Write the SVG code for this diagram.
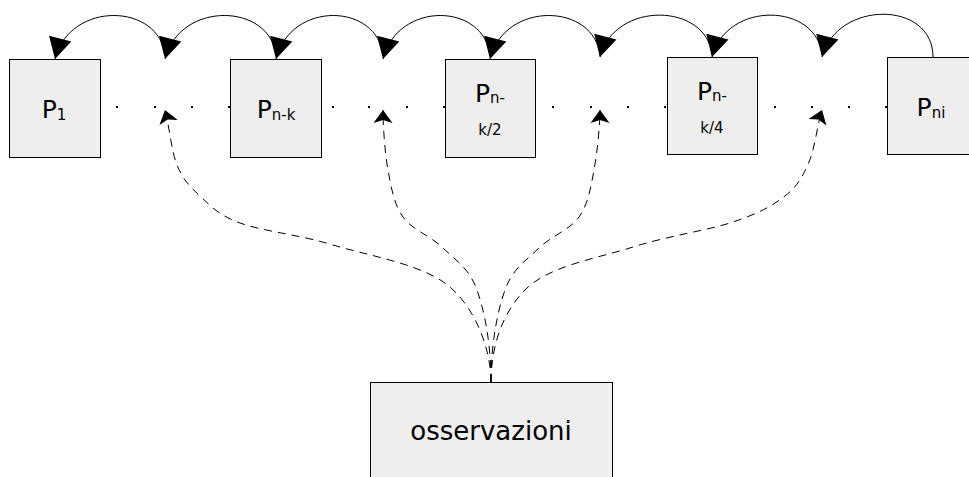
<svg xmlns="http://www.w3.org/2000/svg" width="969" height="477" viewBox="0 0 969 477">
<style>
.box{fill:#eeeeee;stroke:#000;stroke-width:1}
.t{font-family:"DejaVu Sans",sans-serif;font-size:25px;fill:#000;text-anchor:middle}
.s{font-size:15px}
.arc{fill:none;stroke:#000;stroke-width:1;marker-end:url(#tri)}
.dash{fill:none;stroke:#000;stroke-width:1;stroke-dasharray:8 6;marker-end:url(#cls)}
.dot{fill:#000}
</style>
<defs>
<marker id="tri" markerUnits="userSpaceOnUse" markerWidth="30" markerHeight="30" refX="0" refY="0" orient="auto" overflow="visible"><path d="M0,0 L-21,-11.5 L-21,11.5 Z" fill="#000" stroke="none"/></marker>
<marker id="cls" markerUnits="userSpaceOnUse" markerWidth="20" markerHeight="20" refX="0" refY="0" orient="auto" overflow="visible"><path d="M0,0 L-13,-9.5 L-10,0 L-13,9.5 Z" fill="#000" stroke="none"/></marker>
</defs>
<g id="P1"><rect class="box" x="9.5" y="59.5" width="91" height="98"/><text class="t" x="54" y="118">P<tspan class="s" dy="2">1</tspan></text></g>
<g id="Pnk"><rect class="box" x="230.5" y="59.5" width="91" height="98"/><text class="t" x="276" y="118">P<tspan class="s" dy="2">n-k</tspan></text></g>
<g id="Pnk2"><rect class="box" x="445.5" y="59.5" width="90" height="98"/><text class="t" x="490" y="102">P<tspan class="s" dy="1">n-</tspan></text><text class="t s" x="490" y="135">k/2</text></g>
<g id="Pnk4"><rect class="box" x="667.5" y="57.5" width="90" height="97"/><text class="t" x="712" y="100">P<tspan class="s" dy="1">n-</tspan></text><text class="t s" x="712" y="133">k/4</text></g>
<g id="Pni"><rect class="box" x="887.5" y="57.5" width="91" height="97"/><text class="t" x="931" y="116">P<tspan class="s" dy="2">ni</tspan></text></g>
<g id="osservazioni"><rect class="box" x="370.5" y="382.5" width="242" height="110"/><text class="t" x="491" y="440" style="font-size:26px">osservazioni</text></g>
<g id="dots">
<rect class="dot" x="116" y="106" width="2" height="2"/><rect class="dot" x="154" y="106" width="2" height="2"/><rect class="dot" x="191" y="106" width="2" height="2"/><rect class="dot" x="228" y="106" width="2" height="2"/>
<rect class="dot" x="332" y="106" width="2" height="2"/><rect class="dot" x="368" y="106" width="2" height="2"/><rect class="dot" x="406" y="106" width="2" height="2"/><rect class="dot" x="443" y="106" width="2" height="2"/>
<rect class="dot" x="552" y="106" width="2" height="2"/><rect class="dot" x="590" y="106" width="2" height="2"/><rect class="dot" x="627" y="106" width="2" height="2"/><rect class="dot" x="664" y="106" width="2" height="2"/>
<rect class="dot" x="774" y="106" width="2" height="2"/><rect class="dot" x="811" y="106" width="2" height="2"/><rect class="dot" x="848" y="106" width="2" height="2"/><rect class="dot" x="885" y="106" width="2" height="2"/>
</g>
<g id="connectors">
<path class="arc" d="M165,56 C160,3 70,0 55,59"/>
<path class="arc" d="M276,56 C271,3 180,0 165,59"/>
<path class="arc" d="M383,56 C378,3 291,0 276,59"/>
<path class="arc" d="M490,56 C485,3 398,0 383,59"/>
<path class="arc" d="M600,56 C595,3 505,0 490,59"/>
<path class="arc" d="M712,55 C707,3 615,0 600,57"/>
<path class="arc" d="M822,55 C817,3 727,0 712,57"/>
<path class="arc" d="M933,57 C933,0 837,0 822,57"/>
<path class="dash" d="M491,382 C491,350 476.3,309.8 450,287 C423.7,264.2 368,255.7 333,245 C298,234.3 262.2,231.2 240,223 C217.8,214.8 210.5,205.7 200,196 C189.5,186.3 182.8,179.3 177,165 C171.2,150.7 169,124 165,110"/>
<path class="dash" d="M491,382 C491,345 485,312.3 477,290 C469,267.7 455.3,260.2 443,248 C430.7,235.8 412.2,230 403,217 C393.8,204 391.3,187.8 388,170 C384.7,152.2 383,125 383,110"/>
<path class="dash" d="M491,382 C491,345 497,312.3 505,290 C513,267.7 526.7,260.2 539,248 C551.3,235.8 569.8,230 579,217 C588.2,204 590.7,187.8 594,170 C597.3,152.2 600,125 600,110"/>
<path class="dash" d="M491,382 C491,345 503.3,310.5 527,288 C550.7,265.5 598.7,258 633,247 C667.3,236 707.7,230.5 733,222 C758.3,213.5 772.3,206 785,196 C797.7,186 802.8,176.3 809,162 C815.2,147.7 817.8,121.4 822,110"/>
</g>
</svg>
